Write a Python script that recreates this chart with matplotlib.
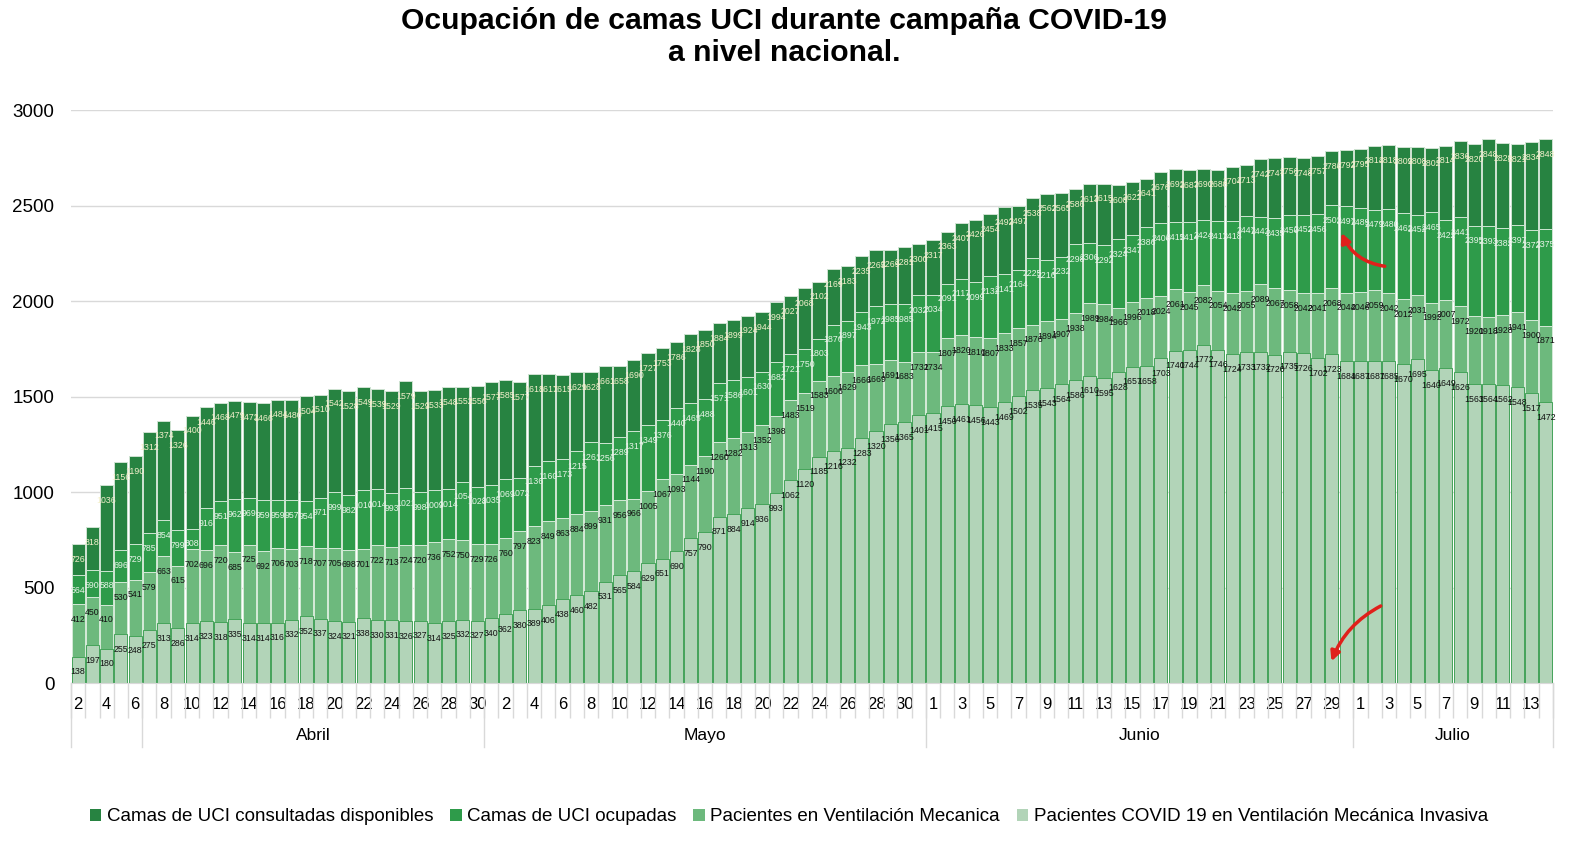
import matplotlib
matplotlib.use("Agg")
import matplotlib.pyplot as plt
from matplotlib.patches import Patch
import numpy as np

plt.rcParams['font.family'] = ['Liberation Sans', 'DejaVu Sans']

# category structure: first group (no month name), then Abril, Mayo, Junio, Julio
first_days = [2, 3, 4, 5, 6]
abril_days = list(range(7, 31))
mayo_days = list(range(1, 32))
junio_days = list(range(1, 31))
julio_days = list(range(1, 15))
months = ["", "Abril", "Mayo", "Junio", "Julio"]
groups = [first_days, abril_days, mayo_days, junio_days, julio_days]

disponibles = [
    726, 818, 1036, 1156, 1190, 1312, 1374, 1326, 1400, 1446, 1468, 1479, 1472, 1466, 1484, 1480, 1504,
    1510, 1542, 1528, 1549, 1539, 1529, 1579, 1529, 1533, 1548, 1552, 1556, 1577, 1585, 1577, 1618, 1617, 1615,
    1629, 1628, 1661, 1658, 1690, 1727, 1753, 1786, 1828, 1850, 1884, 1899, 1924, 1944, 1994, 2027, 2068, 2102,
    2169, 2183, 2235, 2265, 2269, 2281, 2300, 2317, 2363, 2407, 2426, 2454, 2492, 2497, 2538, 2562, 2565,
    2586, 2613, 2615, 2608, 2622, 2641, 2676, 2692, 2687, 2690, 2688, 2704, 2713, 2742, 2747, 2756, 2748, 2757,
    2786, 2792, 2795, 2814, 2818, 2809, 2808, 2802, 2814, 2836, 2820, 2848, 2828, 2821, 2834, 2848,
]
ocupadas = [
    564, 590, 588, 696, 729, 785, 854, 799, 808, 916, 951, 962, 969, 959, 959, 957, 954,
    971, 999, 982, 1010, 1014, 993, 1021, 998, 1009, 1014, 1054, 1028, 1035, 1069, 1072, 1136, 1160, 1173,
    1215, 1261, 1256, 1289, 1317, 1349, 1376, 1440, 1465, 1488, 1571, 1586, 1601, 1630, 1682, 1721, 1750, 1803,
    1876, 1897, 1943, 1972, 1985, 1985, 2032, 2034, 2091, 2117, 2099, 2132, 2141, 2164, 2225, 2216, 2232,
    2298, 2306, 2292, 2324, 2347, 2386, 2406, 2415, 2414, 2424, 2417, 2418, 2447, 2442, 2435, 2450, 2452, 2456,
    2502, 2497, 2489, 2479, 2480, 2462, 2452, 2465, 2422, 2441, 2395, 2393, 2382, 2397, 2372, 2375,
]
ventilacion = [
    412, 450, 410, 530, 541, 579, 663, 615, 702, 696, 720, 685, 725, 692, 706, 703, 718,
    707, 705, 698, 701, 722, 713, 724, 720, 736, 752, 750, 729, 726, 760, 797, 823, 849, 863,
    884, 899, 931, 956, 966, 1005, 1067, 1093, 1144, 1190, 1260, 1282, 1313, 1352, 1398, 1483, 1519, 1583,
    1606, 1629, 1666, 1669, 1691, 1683, 1732, 1734, 1807, 1820, 1810, 1807, 1833, 1857, 1876, 1894, 1907,
    1938, 1989, 1984, 1966, 1996, 2018, 2024, 2061, 2045, 2082, 2054, 2042, 2055, 2089, 2067, 2058, 2042, 2041,
    2068, 2044, 2046, 2059, 2042, 2012, 2031, 1992, 2007, 1972, 1920, 1918, 1928, 1941, 1900, 1871,
]
covid_vmi = [
    138, 197, 180, 255, 248, 275, 313, 286, 314, 323, 318, 335, 314, 314, 316, 332, 352,
    337, 324, 321, 338, 330, 331, 326, 327, 314, 325, 332, 327, 340, 362, 380, 389, 406, 438,
    460, 482, 531, 565, 584, 629, 651, 690, 757, 790, 871, 884, 914, 936, 993, 1062, 1120, 1185,
    1216, 1232, 1283, 1320, 1356, 1365, 1401, 1415, 1450, 1461, 1456, 1443, 1469, 1502, 1535, 1543, 1564,
    1586, 1610, 1595, 1628, 1657, 1658, 1703, 1740, 1744, 1772, 1746, 1724, 1733, 1732, 1720, 1735, 1726, 1702,
    1723, 1684, 1687, 1687, 1685, 1670, 1695, 1640, 1649, 1626, 1563, 1564, 1562, 1548, 1517, 1472,
]

series = [
    ("Camas de UCI consultadas disponibles", disponibles, "#278341", "#cfe3d2", "#f4f0cc"),
    ("Camas de UCI ocupadas", ocupadas, "#2e9b4a", "#cfe6d3", "#e8f4e8"),
    ("Pacientes en Ventilación Mecanica", ventilacion, "#6db97d", "#d5ead8", "#111111"),
    ("Pacientes COVID 19 en Ventilación Mecánica Invasiva", covid_vmi, "#b2d4b8", "#45a35a", "#111111"),
]

days = [d for g in groups for d in g]
n = len(days)
x = np.arange(n)

fig = plt.figure(figsize=(15.78, 8.51), dpi=100)
ax = fig.add_axes([0.045, 0.1974, 0.939, 0.6733])

for name, vals, color, edge, tcolor in series:
    ax.bar(x, vals, width=0.92, color=color, edgecolor=edge, linewidth=0.7, zorder=2)
    for i, v in enumerate(vals):
        ax.annotate(str(v), (i, v), xytext=(0, -11), textcoords="offset points",
                    ha="center", va="center", fontsize=6.3, color=tcolor, zorder=5)

ax.set_xlim(-0.5, n - 0.5)
ax.set_ylim(0, 3000)
ax.set_yticks(range(0, 3001, 500))
ax.yaxis.grid(True, color="#d9d9d9", linewidth=1)
ax.set_axisbelow(True)
ax.tick_params(axis="y", length=0, labelsize=13.5, pad=12)
for s in ["top", "right", "left"]:
    ax.spines[s].set_visible(False)
ax.spines["bottom"].set_color("#d9d9d9")

# day labels every other category, minor ticks between categories
ax.set_xticks(x[::2])
ax.set_xticklabels([str(d) for d in days[::2]], fontsize=12)
ax.tick_params(axis="x", which="major", length=0, pad=10)
ax.set_xticks(np.arange(-0.5, n, 1), minor=True)
ax.tick_params(axis="x", which="minor", length=25, color="#d9d9d9", width=1)

# month separators and names
trans = ax.get_xaxis_transform()
start = 0
for m, g in zip(months, groups):
    end = start + len(g)
    ax.plot([start - 0.5, start - 0.5], [0, -0.112], transform=trans, color="#d9d9d9",
            linewidth=1, clip_on=False)
    if m:
        ax.text((start + end - 1) / 2, -0.091, m, transform=trans, ha="center", va="center",
                fontsize=12.5)
    start = end
ax.plot([n - 0.5, n - 0.5], [0, -0.112], transform=trans, color="#d9d9d9",
        linewidth=1, clip_on=False)

# hand-drawn red marks in the reference
ax.annotate("", xy=(88.6, 2370), xytext=(91.9, 2180),
            arrowprops=dict(arrowstyle="-|>", color="#e0201b", lw=2.5,
                            connectionstyle="arc3,rad=-0.3", mutation_scale=14), zorder=6)
ax.annotate("", xy=(87.9, 100), xytext=(91.6, 410),
            arrowprops=dict(arrowstyle="-|>", color="#e0201b", lw=2.5,
                            connectionstyle="arc3,rad=0.2", mutation_scale=14), zorder=6)

fig.text(0.497, 1 - 37 / 851, "Ocupación de camas UCI durante campaña COVID-19\na nivel nacional.",
         ha="center", va="center", fontsize=21.7, fontweight="bold", linespacing=1.15)

handles = [Patch(facecolor=c, edgecolor="none", label=nm) for nm, _, c, _, _ in series]
fig.legend(handles=handles, loc="center", bbox_to_anchor=(0.5, 0.04), ncol=4, frameon=False,
           fontsize=13.5, handlelength=0.6, handleheight=0.6, handletextpad=0.3, columnspacing=0.9)

fig.savefig("out.png", dpi=100)
